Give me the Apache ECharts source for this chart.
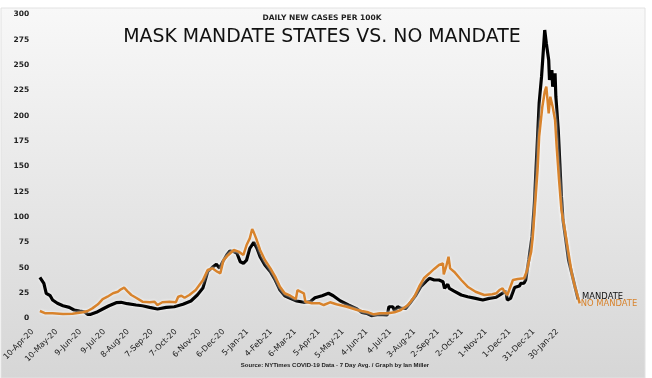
<!DOCTYPE html>
<html><head><meta charset="utf-8">
<script src="https://cdn.jsdelivr.net/npm/echarts@6/dist/echarts.min.js"></script>
<style>html,body{margin:0;padding:0;background:#fff}#c{width:652px;height:378px}</style>
</head><body><div id="c"></div>
<script>
const tickLabels = ['10-Apr-20','10-May-20','9-Jun-20','9-Jul-20','8-Aug-20','7-Sep-20','7-Oct-20','6-Nov-20','6-Dec-20','5-Jan-21','4-Feb-21','6-Mar-21','5-Apr-21','5-May-21','4-Jun-21','4-Jul-21','3-Aug-21','2-Sep-21','2-Oct-21','1-Nov-21','1-Dec-21','31-Dec-21','30-Jan-22'];
// days since 10-Apr-20
const mandateDays = [9,14,17,22,25,31,38,46,52,59,65,69,73,80,88,96,105,111,119,130,138,147,157,168,178,189,199,207,214,220,226,231,235,239,244,248,253,257,261,265,269,273,278,282,286,292,299,305,311,317,324,332,341,349,355,364,372,378,387,397,408,414,420,426,435,446,448,453,455,459,463,469,476,482,488,495,499,505,511,516,518,522,524,530,539,547,557,566,574,583,589,595,597,601,606,612,614,618,620,622,624,628,631,633,635,637,640,642,644,646,649,650,653,654,657,658,661,663,665,667,670,674,678,682,686];
const mandateValues = [40.7,34.7,24.9,22.5,18.3,15,12.6,11,8.4,7.4,6.7,4.1,4.1,6.1,9.4,12.6,15.6,16,14.6,13.3,12.6,11,9.4,11,11.6,14,17.3,23.2,30,46.2,50.5,53.5,49.5,56,62.7,66.6,66,64.3,56,54.5,57.7,69.3,75.2,69.3,61,52.8,46.2,38,28.1,22.5,19.9,17.3,16,16.6,20.5,22.5,24.9,22.5,17.3,13.3,9.4,6.1,5.1,2.8,4.1,3.5,11.6,11.6,7.4,11.6,10,10,16.6,23.2,31.4,37,39.7,38,38,36.3,29.8,33.8,29.8,27.1,23.2,21.5,19.9,18.3,19.9,21,24,27,18.3,19.9,30.5,32,34.7,35,38,48,58,80.7,113.7,146.6,179.4,212.4,238.6,261.7,284.7,271.6,255.1,235.4,245.2,228.8,242,218.9,186,153.2,120.2,97.2,80.7,57.7,44.6,31.4,18.9];
const noMandateDays = [9,16,25,38,50,63,69,75,82,88,94,101,107,111,115,119,124,130,138,147,153,157,163,172,180,183,187,191,197,205,214,220,226,232,236,240,246,253,259,265,269,273,276,278,281,286,292,299,305,311,317,324,331,333,341,343,351,361,366,374,382,395,408,414,422,429,437,447,455,463,472,480,486,492,499,505,511,516,517,520,523,525,530,539,547,557,568,578,583,587,591,593,597,604,610,612,618,620,622,624,627,629,632,635,637,641,644,646,649,651,654,657,659,662,665,670,674,678,682,688];
const noMandateValues = [7.4,5.1,5.1,4.4,4.7,6.1,7.4,10,14,19.2,21.5,24.9,26.4,28.8,30.4,27.1,23.2,20.5,16.6,16,16.6,13.3,16,16.6,16,21.5,22.5,20.5,23.2,28.1,37.7,47.9,49.5,46.2,44.6,57.7,62.7,67.6,66,62.7,72.5,79.1,88.3,85,79.1,67.6,57.7,49.5,41.3,31.4,24.9,22.5,19.2,28,24.9,16.6,15,15,13.3,16,14,11.6,8.4,7.4,6.1,4.1,5.1,5.1,6.1,8.4,13.3,21.5,31.4,39.7,44.6,48.9,52.8,54.5,43.6,51.1,61,49.5,46.2,38,31.4,26.4,23.2,23.9,24.9,28.1,29.8,27.1,23.2,38,39,38.7,39.7,41.3,48,56,66,80.7,113.7,146.6,179.4,209,223.8,228.8,202.5,218.9,209,195.9,169.5,136.7,107.1,84.1,64.3,44.6,31.4,15];

const zip = (d, v) => d.map((x, i) => [x, v[i]]);
const ORANGE = '#d8832c';
const chart = echarts.init(document.getElementById('c'), null, {renderer: 'canvas'});
chart.setOption({
  animation: false,
  backgroundColor: '#ffffff',
  graphic: [
    {type: 'rect', z: -10, silent: true, shape: {x: 1, y: 8, width: 644, height: 370},
     style: {fill: new echarts.graphic.LinearGradient(0, 0, 0, 1, [{offset: 0, color: '#f8f8f8'}, {offset: 1, color: '#d6d6d6'}]), stroke: '#e2e2e2', lineWidth: 1}},
    {type: 'text', z: 100, x: 322, y: 18.5, style: {text: 'DAILY NEW CASES PER 100K', fontFamily: 'DejaVu Sans', fontWeight: 'bold', fontSize: 7.5, fill: '#222', align: 'center', verticalAlign: 'middle'}},
    {type: 'text', z: 100, x: 322, y: 37, style: {text: 'MASK MANDATE STATES VS. NO MANDATE', fontFamily: 'DejaVu Sans', fontSize: 18.9, fill: '#111', align: 'center', verticalAlign: 'middle'}},
    {type: 'text', z: 100, x: 335, y: 365.5, style: {text: 'Source: NYTimes COVID-19 Data - 7 Day Avg. / Graph by Ian Miller', fontFamily: 'Liberation Sans', fontWeight: 'bold', fontSize: 6, fill: '#222', align: 'center', verticalAlign: 'middle'}}
  ],
  grid: {left: 29.5, right: 23, top: 14.5, bottom: 59.5, containLabel: false},
  xAxis: {
    type: 'value', min: 0, max: 750, interval: 30,
    axisLine: {show: false}, axisTick: {show: false}, splitLine: {show: false},
    axisLabel: {rotate: 45, fontSize: 8, margin: 12, color: '#1a1a1a', fontFamily: 'DejaVu Sans',
      formatter: v => tickLabels[Math.round(v / 30)] || ''}
  },
  yAxis: {
    type: 'value', min: 0, max: 300, interval: 25,
    axisLine: {show: false}, axisTick: {show: false}, splitLine: {show: false},
    axisLabel: {fontSize: 7.5, margin: 3.5, color: '#222', fontWeight: 'bold', fontFamily: 'DejaVu Sans'}
  },
  series: [
    {name: 'MANDATE', type: 'line', data: zip(mandateDays, mandateValues), showSymbol: false, z: 2,
     lineStyle: {color: '#000', width: 3.2, shadowColor: '#ffffff', shadowBlur: 3},
     endLabel: {show: true, formatter: 'MANDATE', color: '#111', fontSize: 8.4, fontFamily: 'DejaVu Sans', distance: 4, offset: [0, -3]}},
    {name: 'NO MANDATE', type: 'line', data: zip(noMandateDays, noMandateValues), showSymbol: false, z: 3,
     lineStyle: {color: ORANGE, width: 2.5, shadowColor: '#ffffff', shadowBlur: 3},
     endLabel: {show: true, formatter: 'NO MANDATE', color: ORANGE, fontSize: 8.4, fontFamily: 'DejaVu Sans', distance: 1, offset: [0, 1]}}
  ]
});
</script></body></html>
